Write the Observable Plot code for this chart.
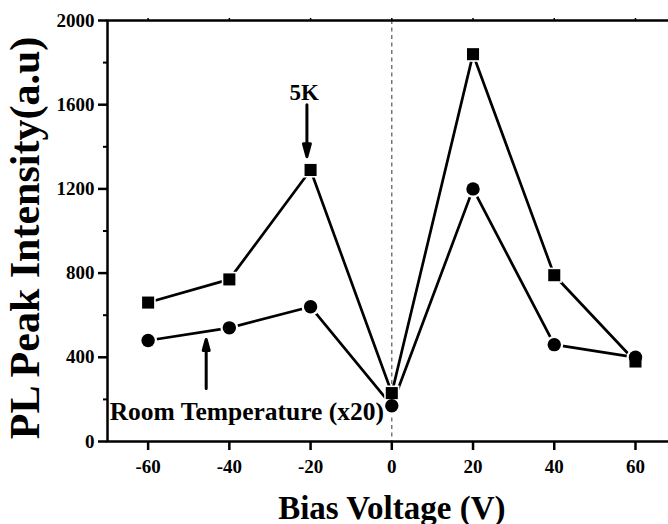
<!DOCTYPE html>
<html>
<head>
<meta charset="utf-8">
<script src="https://cdn.jsdelivr.net/npm/d3@7"></script>
<script src="https://cdn.jsdelivr.net/npm/@observablehq/plot@0.6"></script>
<style>
  html, body { margin: 0; padding: 0; background: #fff; overflow: hidden; }
</style>
</head>
<body>
<div id="chart"></div>
<script>
// PL peak intensity versus bias voltage, at 5K and at room temperature (x20)
const biasVoltage = [-60, -40, -20, 0, 20, 40, 60];
const intensity5K = [660, 770, 1290, 230, 1840, 790, 380];
const intensityRT = [480, 540, 640, 170, 1200, 460, 400];

const xTicks = [-60, -40, -20, 0, 20, 40, 60];
const yTicks = [0, 400, 800, 1200, 1600, 2000];
const yMinorTicks = [200, 600, 1000, 1400, 1800];

const rows5K = biasVoltage.map((v, i) => ({v, I: intensity5K[i]}));
const rowsRT = biasVoltage.map((v, i) => ({v, I: intensityRT[i]}));

// straight shaft with a narrow filled head
function arrowShape(headLen, headHalf) {
  return {
    draw(ctx, l) {
      ctx.moveTo(0, 0);
      ctx.lineTo(0, -l + headLen * 0.6);
      ctx.moveTo(0, -l);
      ctx.lineTo(-headHalf, -l + headLen);
      ctx.lineTo(headHalf, -l + headLen);
      ctx.closePath();
    }
  };
}

const font = '"Liberation Serif", "Times New Roman", Times, serif';
const plain = d => String(d);

const chart = Plot.plot({
  width: 678,
  height: 524,
  marginLeft: 107,
  marginRight: 2.4,
  marginTop: 20,
  marginBottom: 83,
  x: {domain: [-70, 70]},
  y: {domain: [0, 2000]},
  style: {
    fontFamily: font,
    fontWeight: "bold",
    color: "black",
    background: "white",
    maxWidth: "none"
  },
  marks: [
    Plot.ruleX([0], {stroke: "#555", strokeWidth: 1.2, strokeDasharray: "4,3.5"}),
    Plot.line(rows5K, {x: "v", y: "I", stroke: "black", strokeWidth: 2.7}),
    Plot.line(rowsRT, {x: "v", y: "I", stroke: "black", strokeWidth: 2.7}),
    Plot.text(["5K"], {x: -21.6, y: 1658, text: d => d, fontSize: 23, fontWeight: "bold"}),
    Plot.text(["Room Temperature (x20)"], {x: -35.7, y: 142, text: d => d, fontSize: 25.5, fontWeight: "bold"}),
    Plot.vector([0], {x: -20.9, y: 1600, length: 52, rotate: 180, anchor: "start",
      shape: arrowShape(13, 3.5), stroke: "black", fill: "black", strokeWidth: 3}),
    Plot.vector([0], {x: -45.7, y: 252, length: 49, rotate: 0, anchor: "start",
      shape: arrowShape(11, 3), stroke: "black", fill: "black", strokeWidth: 3}),
    // white halos leave a small gap between the lines and the markers
    Plot.dot(rows5K, {x: "v", y: "I", symbol: "square", r: 8.6, fill: "white"}),
    Plot.dot(rowsRT, {x: "v", y: "I", symbol: "circle", r: 9, fill: "white"}),
    Plot.dot(rows5K, {x: "v", y: "I", symbol: "square", r: 6.8, fill: "black"}),
    Plot.dot(rowsRT, {x: "v", y: "I", symbol: "circle", r: 6.7, fill: "black"}),
    Plot.frame({stroke: "black", strokeWidth: 2.5}),
    Plot.axisY({ticks: yTicks, tickFormat: plain, tickSize: 9, tickPadding: 4, fontSize: 19, strokeWidth: 2.5, label: null}),
    Plot.axisY({ticks: yMinorTicks, tickSize: 4, tickFormat: () => "", strokeWidth: 2, label: null}),
    Plot.axisX({ticks: xTicks, tickFormat: plain, tickSize: 9, tickPadding: 9, fontSize: 19, strokeWidth: 2.5, label: null}),
    Plot.axisX({anchor: "top", ticks: xTicks, tickSize: 3, tickFormat: () => "", strokeWidth: 1.5, label: null}),
    Plot.text(["PL Peak Intensity(a.u)"], {frameAnchor: "left", rotate: -90, textAnchor: "middle", dx: -82, dy: 7,
      text: d => d, fontSize: 42, fontWeight: "bold"}),
    Plot.text(["Bias Voltage (V)"], {frameAnchor: "bottom", dy: 77, text: d => d, fontSize: 33, fontWeight: "bold"})
  ]
});

document.getElementById("chart").appendChild(chart);
</script>
</body>
</html>
